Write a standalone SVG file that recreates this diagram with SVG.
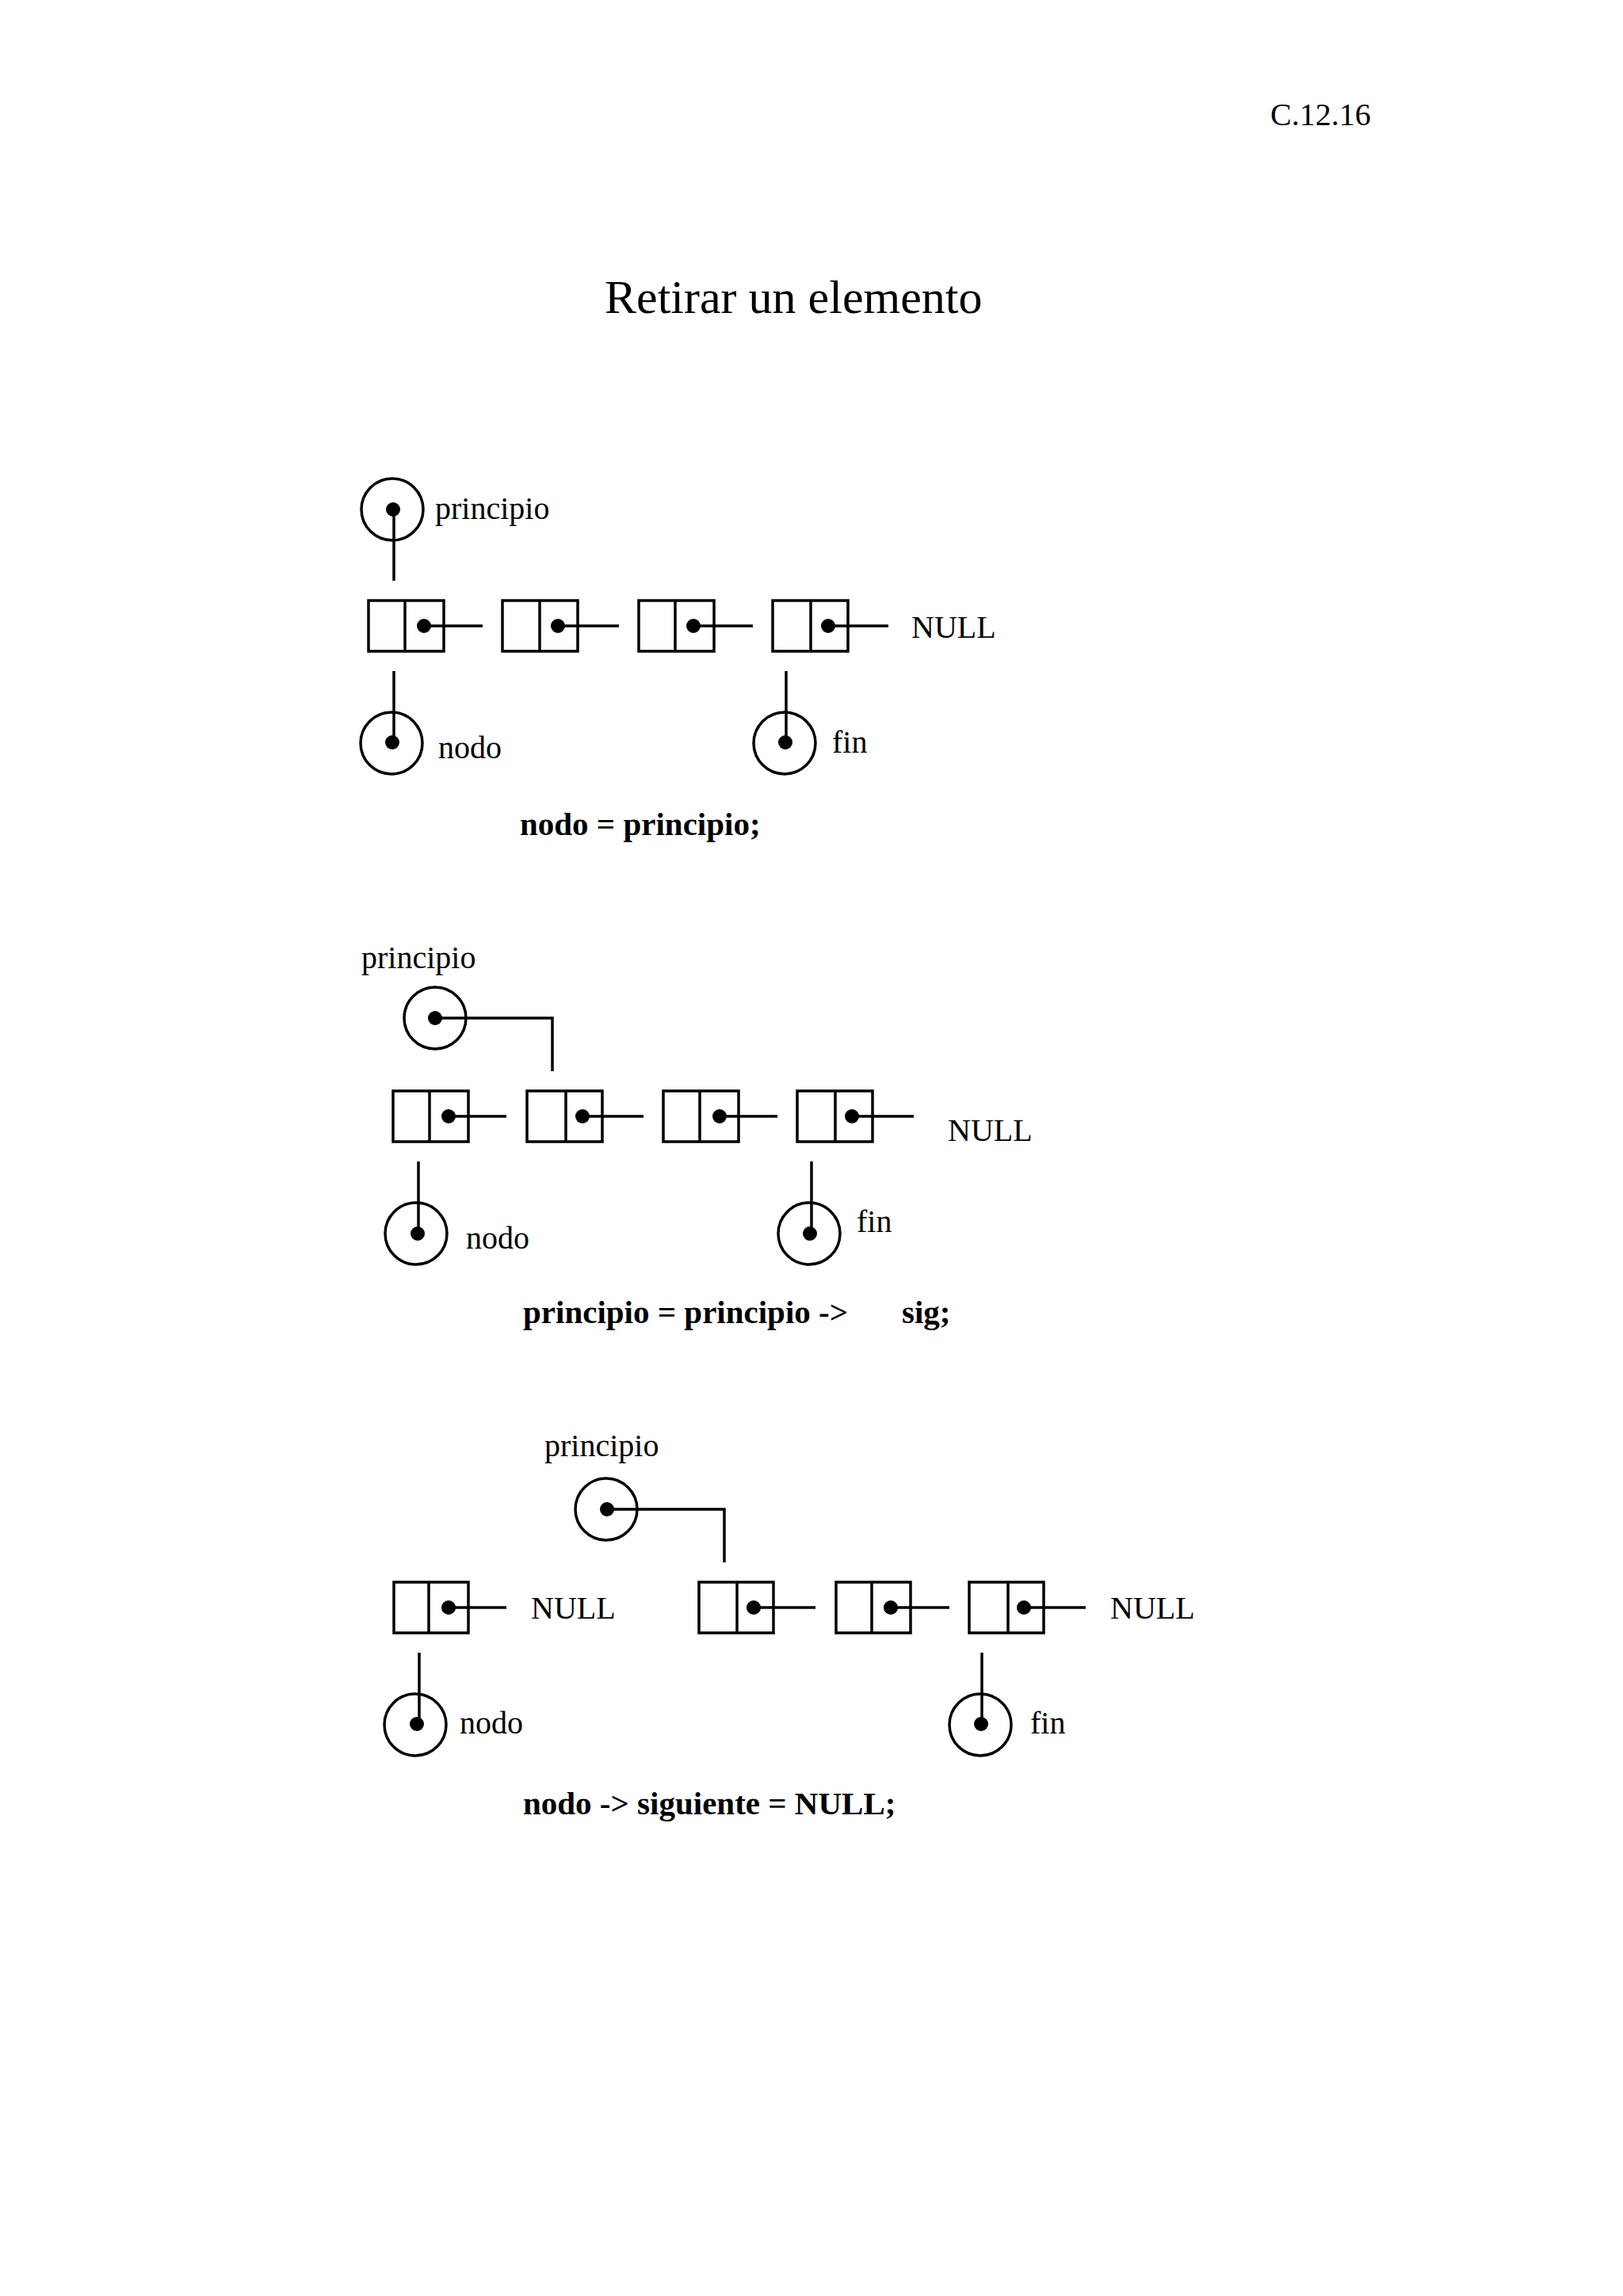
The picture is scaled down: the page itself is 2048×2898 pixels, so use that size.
<svg xmlns="http://www.w3.org/2000/svg" width="2048" height="2898" viewBox="0 0 2048 2898">
<style>
.bx{fill:none;stroke:#000;stroke-width:3.5}
.ln{fill:none;stroke:#000;stroke-width:3.5}
.cr{fill:none;stroke:#000;stroke-width:3.5}
.dt{fill:#000}
.t{font-family:"Liberation Serif","Times New Roman",serif;font-size:40px;fill:#000}
.b{font-family:"Liberation Serif","Times New Roman",serif;font-size:41px;font-weight:bold;fill:#000}
</style>
<rect width="2048" height="2898" fill="#fff"/>
<text class="t" x="1603" y="158">C.12.16</text>
<text class="t" x="763" y="395" style="font-size:60px">Retirar un elemento</text>

<!-- Section 1 -->
<g id="s1-principio"><circle class="cr" cx="495" cy="643" r="39"/><circle class="dt" cx="496" cy="643" r="9"/><text class="t" x="549" y="655">principio</text></g>
<g id="s1-n1"><rect class="bx" x="465" y="758" width="95" height="64"/><line class="ln" x1="511" y1="758" x2="511" y2="822"/><circle class="dt" cx="535" cy="790" r="9"/></g>
<g id="s1-n2"><rect class="bx" x="634" y="758" width="95" height="64"/><line class="ln" x1="681" y1="758" x2="681" y2="822"/><circle class="dt" cx="704" cy="790" r="9"/></g>
<g id="s1-n3"><rect class="bx" x="806" y="758" width="95" height="64"/><line class="ln" x1="852" y1="758" x2="852" y2="822"/><circle class="dt" cx="875" cy="790" r="9"/></g>
<g id="s1-n4"><rect class="bx" x="975" y="758" width="95" height="64"/><line class="ln" x1="1023" y1="758" x2="1023" y2="822"/><circle class="dt" cx="1045" cy="790" r="9"/></g>
<g id="s1-null"><text class="t" x="1150" y="805">NULL</text></g>
<g id="s1-nodo"><circle class="cr" cx="494" cy="938" r="39"/><circle class="dt" cx="495" cy="937" r="9"/><text class="t" x="553" y="957">nodo</text></g>
<g id="s1-fin"><circle class="cr" cx="990" cy="938" r="39"/><circle class="dt" cx="991" cy="937" r="9"/><text class="t" x="1050" y="950">fin</text></g>
<text class="b" x="656" y="1054">nodo = principio;</text>

<!-- Section 2 -->
<g id="s2-principio"><text class="t" x="456" y="1222">principio</text><circle class="cr" cx="549" cy="1285" r="39"/><circle class="dt" cx="549" cy="1285" r="9"/></g>
<g id="s2-n1"><rect class="bx" x="496" y="1377" width="95" height="64"/><line class="ln" x1="542" y1="1377" x2="542" y2="1441"/><circle class="dt" cx="566" cy="1409" r="9"/></g>
<g id="s2-n2"><rect class="bx" x="665" y="1377" width="95" height="64"/><line class="ln" x1="714" y1="1377" x2="714" y2="1441"/><circle class="dt" cx="735" cy="1409" r="9"/></g>
<g id="s2-n3"><rect class="bx" x="837" y="1377" width="95" height="64"/><line class="ln" x1="883" y1="1377" x2="883" y2="1441"/><circle class="dt" cx="908" cy="1409" r="9"/></g>
<g id="s2-n4"><rect class="bx" x="1006" y="1377" width="95" height="64"/><line class="ln" x1="1054" y1="1377" x2="1054" y2="1441"/><circle class="dt" cx="1075" cy="1409" r="9"/></g>
<g id="s2-null"><text class="t" x="1196" y="1440">NULL</text></g>
<g id="s2-nodo"><circle class="cr" cx="525" cy="1557" r="39"/><circle class="dt" cx="527" cy="1557" r="9"/><text class="t" x="588" y="1576">nodo</text></g>
<g id="s2-fin"><circle class="cr" cx="1021" cy="1557" r="39"/><circle class="dt" cx="1022" cy="1557" r="9"/><text class="t" x="1081" y="1555">fin</text></g>
<text class="b" x="660" y="1670">principio = principio -&gt;</text>
<text class="b" x="1138" y="1670">sig;</text>

<!-- Section 3 -->
<g id="s3-principio"><text class="t" x="687" y="1838">principio</text><circle class="cr" cx="765" cy="1905" r="39"/><circle class="dt" cx="766" cy="1905" r="9"/></g>
<g id="s3-n1"><rect class="bx" x="497" y="1997" width="94" height="64"/><line class="ln" x1="541" y1="1997" x2="541" y2="2061"/><circle class="dt" cx="566" cy="2029" r="9"/></g>
<g id="s3-null1"><text class="t" x="670" y="2043">NULL</text></g>
<g id="s3-n2"><rect class="bx" x="882" y="1997" width="94" height="64"/><line class="ln" x1="930" y1="1997" x2="930" y2="2061"/><circle class="dt" cx="951" cy="2029" r="9"/></g>
<g id="s3-n3"><rect class="bx" x="1055" y="1997" width="94" height="64"/><line class="ln" x1="1100" y1="1997" x2="1100" y2="2061"/><circle class="dt" cx="1124" cy="2029" r="9"/></g>
<g id="s3-n4"><rect class="bx" x="1223" y="1997" width="94" height="64"/><line class="ln" x1="1272" y1="1997" x2="1272" y2="2061"/><circle class="dt" cx="1292" cy="2029" r="9"/></g>
<g id="s3-null2"><text class="t" x="1401" y="2043">NULL</text></g>
<g id="s3-nodo"><circle class="cr" cx="524" cy="2177" r="39"/><circle class="dt" cx="526" cy="2176" r="9"/><text class="t" x="580" y="2188">nodo</text></g>
<g id="s3-fin"><circle class="cr" cx="1237" cy="2177" r="39"/><circle class="dt" cx="1238" cy="2176" r="9"/><text class="t" x="1300" y="2188">fin</text></g>
<text class="b" x="660" y="2290">nodo -&gt; siguiente = NULL;</text>

<g id="connectors">
<!-- section 1 -->
<line class="ln" x1="497" y1="643" x2="497" y2="733"/>
<line class="ln" x1="535" y1="790" x2="609" y2="790"/>
<line class="ln" x1="704" y1="790" x2="781" y2="790"/>
<line class="ln" x1="875" y1="790" x2="950" y2="790"/>
<line class="ln" x1="1045" y1="790" x2="1121" y2="790"/>
<line class="ln" x1="497" y1="847" x2="497" y2="937"/>
<line class="ln" x1="992" y1="847" x2="992" y2="937"/>
<!-- section 2 -->
<polyline class="ln" points="549,1285 697,1285 697,1352"/>
<line class="ln" x1="566" y1="1409" x2="639" y2="1409"/>
<line class="ln" x1="735" y1="1409" x2="812" y2="1409"/>
<line class="ln" x1="908" y1="1409" x2="981" y2="1409"/>
<line class="ln" x1="1075" y1="1409" x2="1153" y2="1409"/>
<line class="ln" x1="528" y1="1466" x2="528" y2="1557"/>
<line class="ln" x1="1024" y1="1466" x2="1024" y2="1557"/>
<!-- section 3 -->
<polyline class="ln" points="766,1905 914,1905 914,1972"/>
<line class="ln" x1="566" y1="2029" x2="639" y2="2029"/>
<line class="ln" x1="951" y1="2029" x2="1029" y2="2029"/>
<line class="ln" x1="1124" y1="2029" x2="1198" y2="2029"/>
<line class="ln" x1="1292" y1="2029" x2="1370" y2="2029"/>
<line class="ln" x1="529" y1="2086" x2="529" y2="2176"/>
<line class="ln" x1="1239" y1="2086" x2="1239" y2="2176"/>
</g>
</svg>
